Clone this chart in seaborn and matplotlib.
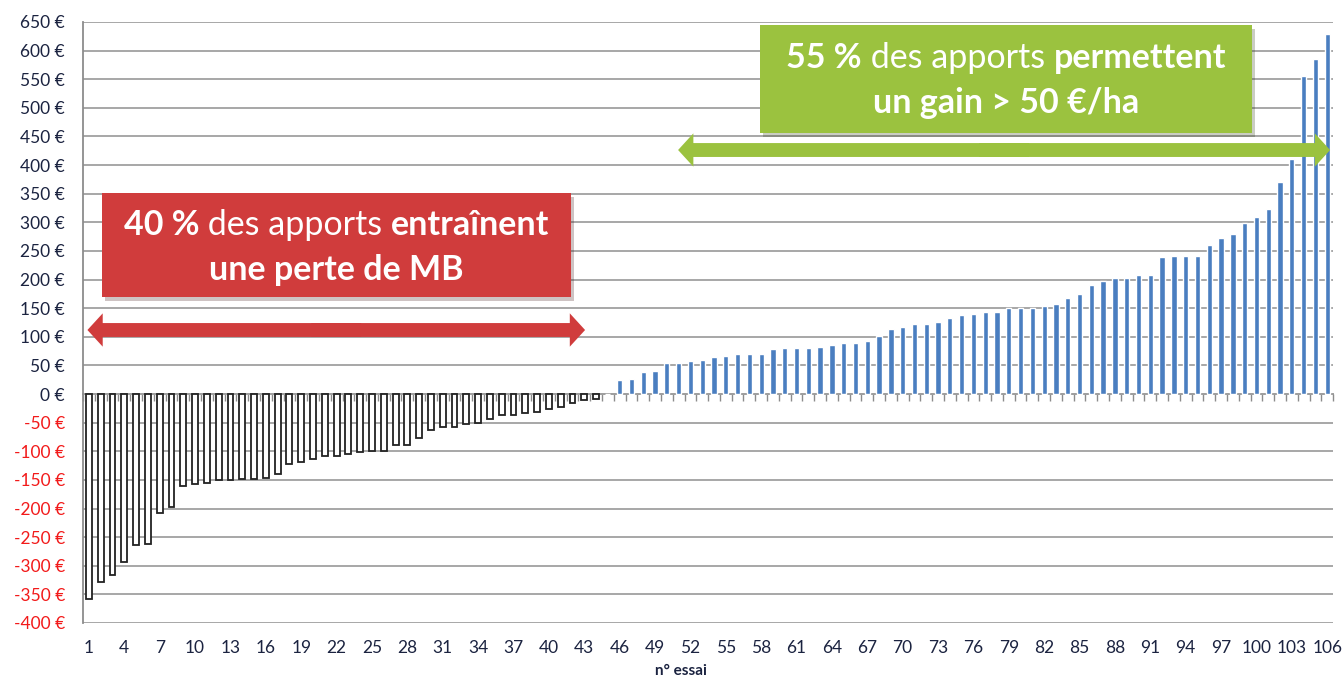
import numpy as np
import pandas as pd
import matplotlib.pyplot as plt
import matplotlib.patheffects as pe
from matplotlib.patches import Rectangle
import seaborn as sns

# gain de marge brute par essai (€/ha)
essai = list(range(1, 107))
gain = [-358, -329, -316, -293, -264, -262, -207, -197, -161, -158,
        -156, -150, -150, -148, -148, -146, -140, -123, -119, -114,
        -109, -109, -104, -101, -99, -99, -89, -89, -76, -63,
        -58, -57, -53, -50, -44, -37, -37, -34, -32, -26,
        -23, -15, -10, -9, 0,
        24, 27, 38, 40, 54, 54, 57, 59, 64, 67, 70, 70, 70, 78, 80,
        80, 80, 83, 86, 89, 89, 92, 101, 113,
        117, 122, 122, 126, 133, 138, 140, 144, 144, 151, 151, 151, 154, 157,
        168, 175, 190, 198, 202, 202, 208, 208, 239, 241,
        241, 241, 260, 272, 279, 298, 310, 323, 370, 411, 556, 586, 629]
y_ticks = list(range(-400, 651, 50))
x_labels = [str(n) for n in essai[::3]]

df = pd.DataFrame({"essai": essai, "gain": gain})

sns.set_style("white")
plt.rcParams["font.family"] = ["Lato", "DejaVu Sans"]

fig = plt.figure(figsize=(13.44, 6.79), dpi=100)
ax = fig.add_axes([0.0618, 0.0825, 0.9301, 0.8851])

# barres négatives (contour noir) puis positives (bleu)
sns.barplot(data=df[df["gain"] < 0], x="essai", y="gain", order=essai,
            color="white", edgecolor="#222222", linewidth=1.3, width=0.5,
            saturation=1, errorbar=None, ax=ax, zorder=3)
sns.barplot(data=df[df["gain"] >= 0], x="essai", y="gain", order=essai,
            color="#4A7EC0", width=0.45, saturation=1, errorbar=None,
            ax=ax, zorder=3)

ax.set_xlim(-0.5, len(essai) - 0.5)
ax.set_ylim(-400, 650)
ax.set_yticks(y_ticks)
ax.set_yticklabels([f"{v} €" for v in y_ticks])
for lab, v in zip(ax.get_yticklabels(), y_ticks):
    lab.set_color("#F21A1A" if v < 0 else "#1B2340")
ax.tick_params(axis="y", length=4, color="#8c8c8c", labelsize=12.5, pad=9)
ax.yaxis.grid(True, color="#a0a0a0", lw=1.3, zorder=0)
ax.xaxis.grid(False)

ax.set_xticks(range(0, len(essai), 3))
ax.set_xticklabels(x_labels)
ax.tick_params(axis="x", length=0, labelsize=12.5, pad=12, labelcolor="#1B2340")
ax.set_xlabel("n° essai", fontsize=11, fontweight="bold", color="#1B2340")
ax.xaxis.set_label_coords(0.478, -0.069)
ax.set_ylabel("")

for s in ["top", "right", "bottom"]:
    ax.spines[s].set_visible(False)
ax.spines["left"].set_color("#8c8c8c")
ax.spines["left"].set_linewidth(1.3)

# axe horizontal au niveau de 0 € avec graduations entre les essais
sec = ax.secondary_xaxis(0, transform=ax.transData)
sec.set_xticks(np.arange(-0.5, len(essai), 1))
sec.tick_params(axis="x", length=5, color="#8c8c8c", labelbottom=False, width=1)
sec.spines["bottom"].set_color("#8c8c8c")
sec.spines["bottom"].set_linewidth(1.3)


def rich_line(parts, xc, y, size):
    texts = []
    for s, w in parts:
        if not texts:
            t = ax.text(xc, y, s, transform=ax.transAxes, ha="left", va="center",
                        fontsize=size, fontweight=w, color="white", zorder=7)
        else:
            t = ax.annotate(s, xy=(1, 0), xycoords=texts[-1], ha="left", va="bottom",
                            fontsize=size, fontweight=w, color="white", zorder=7)
        texts.append(t)
    return texts


def box(x0, y0, x1, y1, color, lines):
    r = Rectangle((x0, y0), x1 - x0, y1 - y0, transform=ax.transAxes,
                  facecolor=color, edgecolor="none", zorder=6, clip_on=False)
    r.set_path_effects([pe.SimplePatchShadow(offset=(2, -3), alpha=0.25), pe.Normal()])
    ax.add_patch(r)
    xc = (x0 + x1) / 2
    return [(rich_line(parts, xc, y, 24.5), xc) for parts, y in lines]


def double_arrow(x0, x1, y, color):
    xm = (x0 + x1) / 2
    style = "simple,head_length=11,head_width=24,tail_width=10"
    for xe, xs in ((x0, xm + 0.02), (x1, xm - 0.02)):
        ax.annotate("", xy=(xe, y), xytext=(xs, y), xycoords="axes fraction",
                    arrowprops=dict(arrowstyle=style, fc=color, ec="none",
                                    shrinkA=0, shrinkB=0, mutation_scale=1),
                    zorder=6)


red = "#D03C3C"
green = "#9BC23F"
rows = []
rows += box(0.0152, 0.5424, 0.3904, 0.7155, red, [
    ([("40 %", "bold"), (" des apports ", "normal"), ("entraînent", "bold")], 0.663),
    ([("une perte de MB", "bold")], 0.588)])
rows += box(0.5416, 0.8153, 0.9352, 0.995, green, [
    ([("55 %", "bold"), (" des apports ", "normal"), ("permettent", "bold")], 0.940),
    ([("un gain > 50 €/ha", "bold")], 0.866)])
double_arrow(0.0035, 0.4016, 0.4875, red)
double_arrow(0.476, 0.9976, 0.787, green)

# centrage des lignes de texte composées
fig.canvas.draw()
rend = fig.canvas.get_renderer()
inv = ax.transAxes.inverted()
for texts, xc in rows:
    x_left = texts[0].get_window_extent(rend).x0
    x_right = texts[-1].get_window_extent(rend).x1
    width = inv.transform((x_right, 0))[0] - inv.transform((x_left, 0))[0]
    texts[0].set_x(xc - width / 2)

fig.savefig("out.png", dpi=100)
